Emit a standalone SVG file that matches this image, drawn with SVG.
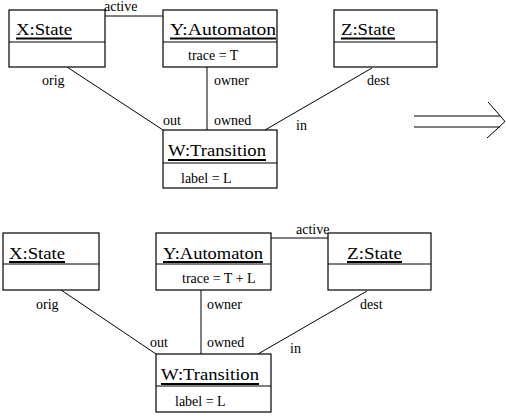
<svg xmlns="http://www.w3.org/2000/svg" width="506" height="417" viewBox="0 0 506 417">
<style>
.box{fill:#fff;stroke:#000;stroke-width:1.2}
.div{stroke:#000;stroke-width:1}
.ul{stroke:#000;stroke-width:1.8}
.c{stroke:#000;stroke-width:1;fill:none}
</style>
<rect width="506" height="417" fill="#fff"/>
<g id="connectors">
<line class="c" x1="105" y1="16" x2="163" y2="16"/>
<line class="c" x1="67" y1="67" x2="163" y2="130"/>
<line class="c" x1="207" y1="67" x2="207" y2="130"/>
<line class="c" x1="372" y1="68" x2="265" y2="130"/>
<line class="c" x1="271" y1="238" x2="328" y2="238"/>
<line class="c" x1="61" y1="290" x2="156" y2="354"/>
<line class="c" x1="201" y1="290" x2="201" y2="354"/>
<line class="c" x1="367" y1="291" x2="258" y2="354"/>
<text font-family="Liberation Serif" font-size="14" x="104" y="11">active</text>
<text font-family="Liberation Serif" font-size="14" x="42" y="85">orig</text>
<text font-family="Liberation Serif" font-size="14" x="214" y="85">owner</text>
<text font-family="Liberation Serif" font-size="14" x="163" y="125">out</text>
<text font-family="Liberation Serif" font-size="14" x="214" y="125">owned</text>
<text font-family="Liberation Serif" font-size="14" x="367" y="85">dest</text>
<text font-family="Liberation Serif" font-size="14" x="296" y="130">in</text>
<text font-family="Liberation Serif" font-size="14" x="296" y="234">active</text>
<text font-family="Liberation Serif" font-size="14" x="36" y="309">orig</text>
<text font-family="Liberation Serif" font-size="14" x="207" y="309">owner</text>
<text font-family="Liberation Serif" font-size="14" x="150" y="347">out</text>
<text font-family="Liberation Serif" font-size="14" x="207" y="347">owned</text>
<text font-family="Liberation Serif" font-size="14" x="360" y="309">dest</text>
<text font-family="Liberation Serif" font-size="14" x="290" y="353">in</text>
</g>
<g id="top-X">
<rect class="box" x="9" y="10" width="96" height="57"/>
<line class="div" x1="9" y1="42" x2="105" y2="42"/>
<text font-family="Liberation Serif" font-size="17" x="16" y="35" textLength="56" lengthAdjust="spacingAndGlyphs">X:State</text>
<line class="ul" x1="16" y1="38.5" x2="72" y2="38.5"/>
</g>
<g id="top-Y">
<rect class="box" x="163" y="10" width="114" height="57"/>
<line class="div" x1="163" y1="42" x2="277" y2="42"/>
<text font-family="Liberation Serif" font-size="17" x="170" y="35" textLength="106" lengthAdjust="spacingAndGlyphs">Y:Automaton</text>
<line class="ul" x1="170" y1="38.5" x2="276" y2="38.5"/>
<text font-family="Liberation Serif" font-size="14" x="188" y="60">trace = T</text>
</g>
<g id="top-Z">
<rect class="box" x="334" y="10" width="103" height="57"/>
<line class="div" x1="334" y1="42" x2="437" y2="42"/>
<text font-family="Liberation Serif" font-size="17" x="341" y="35" textLength="54" lengthAdjust="spacingAndGlyphs">Z:State</text>
<line class="ul" x1="341" y1="38.5" x2="395" y2="38.5"/>
</g>
<g id="top-W">
<rect class="box" x="163" y="130" width="114" height="58"/>
<line class="div" x1="163" y1="163" x2="277" y2="163"/>
<text font-family="Liberation Serif" font-size="17" x="168" y="156" textLength="98" lengthAdjust="spacingAndGlyphs">W:Transition</text>
<line class="ul" x1="168" y1="160" x2="266" y2="160"/>
<text font-family="Liberation Serif" font-size="14" x="181" y="183">label = L</text>
</g>
<g id="arrow">
<line class="c" x1="414" y1="116" x2="500" y2="116" stroke-width="1.8"/>
<line class="c" x1="414" y1="127" x2="500" y2="127" stroke-width="1.8"/>
<path class="c" stroke-width="1.8" d="M488,102 Q497,112 505,121.5 Q496,130 487,138"/>
</g>
<g id="bot-X">
<rect class="box" x="3" y="233" width="96" height="57"/>
<line class="div" x1="3" y1="264" x2="99" y2="264"/>
<text font-family="Liberation Serif" font-size="17" x="9" y="259" textLength="56" lengthAdjust="spacingAndGlyphs">X:State</text>
<line class="ul" x1="9" y1="262" x2="65" y2="262"/>
</g>
<g id="bot-Y">
<rect class="box" x="156" y="233" width="115" height="57"/>
<line class="div" x1="156" y1="264" x2="271" y2="264"/>
<text font-family="Liberation Serif" font-size="17" x="163" y="259" textLength="100" lengthAdjust="spacingAndGlyphs">Y:Automaton</text>
<line class="ul" x1="163" y1="262" x2="263" y2="262"/>
<text font-family="Liberation Serif" font-size="14" x="182" y="283">trace = T + L</text>
</g>
<g id="bot-Z">
<rect class="box" x="328" y="233" width="103" height="57"/>
<line class="div" x1="328" y1="264" x2="431" y2="264"/>
<text font-family="Liberation Serif" font-size="17" x="347" y="259" textLength="55" lengthAdjust="spacingAndGlyphs">Z:State</text>
<line class="ul" x1="347" y1="262" x2="402" y2="262"/>
</g>
<g id="bot-W">
<rect class="box" x="156" y="354" width="115" height="58"/>
<line class="div" x1="156" y1="386" x2="271" y2="386"/>
<text font-family="Liberation Serif" font-size="17" x="161" y="380" textLength="98" lengthAdjust="spacingAndGlyphs">W:Transition</text>
<line class="ul" x1="161" y1="384" x2="259" y2="384"/>
<text font-family="Liberation Serif" font-size="14" x="175" y="406">label = L</text>
</g>
</svg>
